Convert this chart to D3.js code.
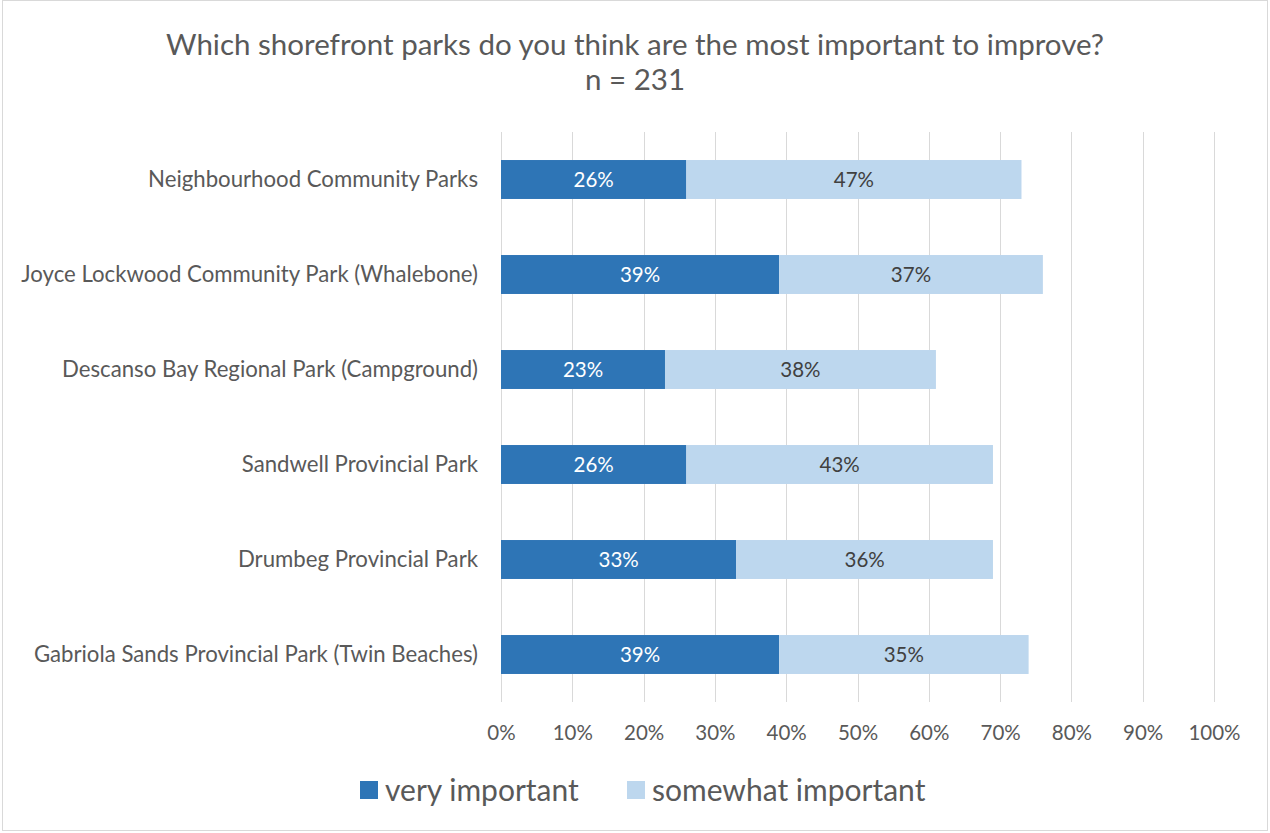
<!DOCTYPE html>
<html>
<head>
<meta charset="utf-8">
<script src="https://cdn.jsdelivr.net/npm/d3@7"></script>
<style>
  html, body { margin: 0; padding: 0; background: #fff; }
  svg { display: block; font-family: "Lato", "Open Sans", sans-serif; }
</style>
</head>
<body>
<svg id="chart" width="1270" height="833"></svg>
<script>
// Survey results: shorefront parks rated as important to improve (n = 231)
const titleLines = ["Which shorefront parks do you think are the most important to improve?", "n = 231"];
const parks = [
  "Neighbourhood Community Parks",
  "Joyce Lockwood Community Park (Whalebone)",
  "Descanso Bay Regional Park (Campground)",
  "Sandwell Provincial Park",
  "Drumbeg Provincial Park",
  "Gabriola Sands Provincial Park (Twin Beaches)"
];
const veryImportant = [26, 39, 23, 26, 33, 39];
const somewhatImportant = [47, 37, 38, 43, 36, 35];
const seriesNames = ["very important", "somewhat important"];
const xTicks = [0, 10, 20, 30, 40, 50, 60, 70, 80, 90, 100];

const colors = ["#2E75B6", "#BDD7EE"];
const labelColors = ["#FFFFFF", "#404040"];
const textGray = "#595959";

const svg = d3.select("#chart");
const W = 1270, H = 833;

// outer chart border
svg.append("rect")
  .attr("x", 2.5).attr("y", 0.5).attr("width", W - 5).attr("height", H - 3)
  .attr("fill", "#fff").attr("stroke", "#D9D9D9").attr("stroke-width", 1);

const plot = { left: 501, right: 1214, top: 132, bottom: 702 };

const x = d3.scaleLinear().domain([0, 100]).range([plot.left, plot.right]);
const y = d3.scaleBand().domain(parks).range([plot.top, plot.bottom]).paddingInner(0.59).paddingOuter(0.295);

// title
svg.append("g").selectAll("text").data(titleLines).join("text")
  .attr("x", 635).attr("y", (d, i) => 55 + i * 35)
  .attr("text-anchor", "middle")
  .attr("font-size", 29.5)
  .attr("fill", textGray)
  .text(d => d);

// vertical gridlines
svg.append("g").selectAll("line").data(xTicks).join("line")
  .attr("x1", d => Math.round(x(d)) + 0.5).attr("x2", d => Math.round(x(d)) + 0.5)
  .attr("y1", plot.top).attr("y2", plot.bottom)
  .attr("stroke", "#D9D9D9").attr("stroke-width", 1);

// x axis tick labels
const xAxis = d3.axisBottom(x).tickValues(xTicks).tickFormat(d => d + "%").tickSize(0).tickPadding(0);
const gx = svg.append("g").attr("transform", `translate(0, ${plot.bottom + 38})`).call(xAxis);
gx.select(".domain").remove();
gx.selectAll("text").attr("font-size", 20.5).attr("fill", textGray).attr("font-family", "Lato, sans-serif").attr("dy", 0);

// y axis category labels
const yAxis = d3.axisLeft(y).tickSize(0).tickPadding(23);
const gy = svg.append("g").attr("transform", `translate(${plot.left}, 0)`).call(yAxis);
gy.select(".domain").remove();
gy.selectAll("text").attr("font-size", 22.2).attr("fill", textGray).attr("font-family", "Lato, sans-serif");

// stacked bars
const rows = parks.map((p, i) => ({ park: p, values: [veryImportant[i], somewhatImportant[i]] }));
const segs = rows.flatMap(r => {
  let acc = 0;
  return r.values.map((v, k) => { const s = { park: r.park, k, v, x0: acc, x1: acc + v }; acc += v; return s; });
});

svg.append("g").selectAll("rect").data(segs).join("rect")
  .attr("x", d => x(d.x0))
  .attr("y", d => y(d.park))
  .attr("width", d => x(d.x1) - x(d.x0))
  .attr("height", y.bandwidth())
  .attr("fill", d => colors[d.k]);

svg.append("g").selectAll("text").data(segs).join("text")
  .attr("x", d => (x(d.x0) + x(d.x1)) / 2)
  .attr("y", d => y(d.park) + y.bandwidth() / 2)
  .attr("dy", "0.35em")
  .attr("text-anchor", "middle")
  .attr("font-size", 20.5)
  .attr("fill", d => labelColors[d.k])
  .text(d => d.v + "%");

// legend
const legendItems = [
  { name: seriesNames[0], color: colors[0], x: 360 },
  { name: seriesNames[1], color: colors[1], x: 627 }
];
const lg = svg.append("g").selectAll("g").data(legendItems).join("g")
  .attr("transform", d => `translate(${d.x}, 781)`);
lg.append("rect").attr("width", 18).attr("height", 18).attr("fill", d => d.color);
lg.append("text").attr("x", 25).attr("y", 9).attr("dy", "0.35em")
  .attr("font-size", 30).attr("fill", textGray).text(d => d.name);
</script>
</body>
</html>
